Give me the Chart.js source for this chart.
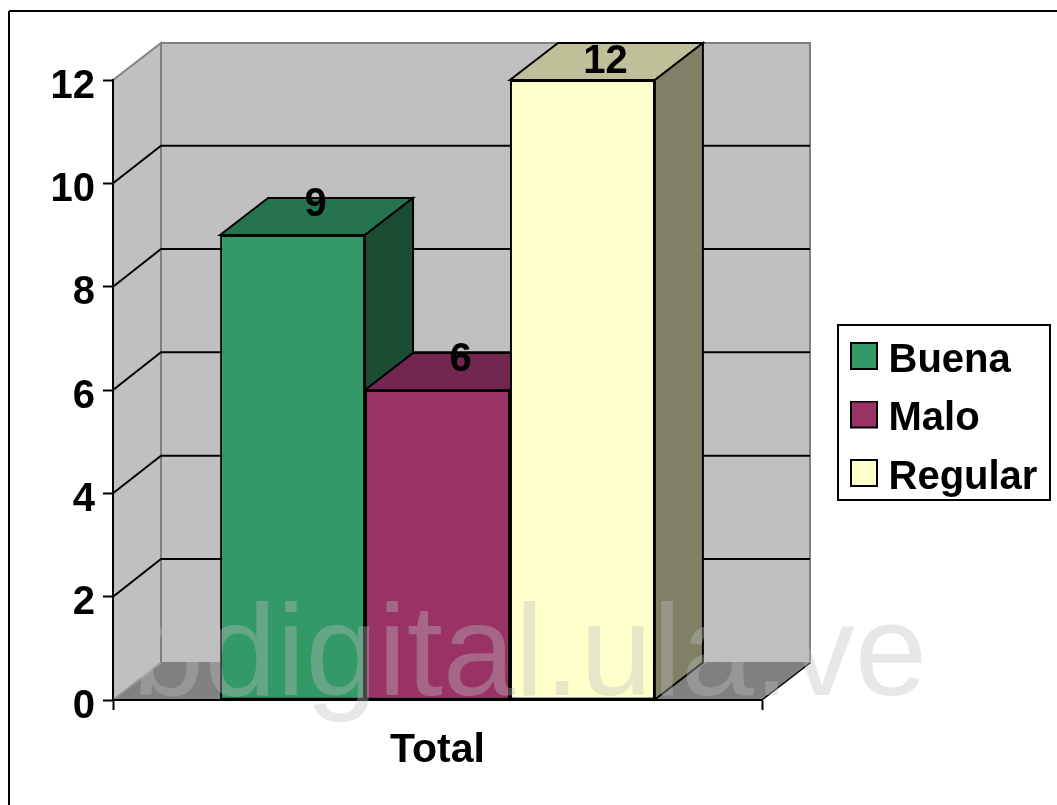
<!DOCTYPE html>
<html>
<head>
<meta charset="utf-8">
<style>
html,body{margin:0;padding:0;background:#fff;overflow:hidden}
#wrap{position:relative;width:1057px;height:805px}
</style>
<script src="https://cdn.jsdelivr.net/npm/chart.js@4"></script>
</head>
<body>
<div id="wrap"><canvas id="c" width="1057" height="805"></canvas></div>
<script>
const categories = ['Total'];
const seriesNames = ['Buena', 'Malo', 'Regular'];
const seriesValues = [[9], [6], [12]];
const frontColors = ['#339966', '#993366', '#FFFFCC'];
const topColors = ['#267350', '#732650', '#BFBF99'];
const sideColors = ['#1A4D33', '#4D1A33', '#808066'];
const watermark = 'bdigital.ula.ve';

const FONT = '"Liberation Sans", Arial, sans-serif';
const DX = 48, DY = 37;

function swatch(color) {
  const s = document.createElement('canvas');
  s.width = 28; s.height = 37;
  const g = s.getContext('2d');
  g.fillStyle = color; g.fillRect(1, 1, 26, 26);
  g.strokeStyle = '#000'; g.lineWidth = 2; g.strokeRect(1, 1, 26, 26);
  return s;
}
function poly(ctx, pts, fill, stroke, lw) {
  ctx.beginPath();
  pts.forEach((p, i) => i ? ctx.lineTo(p[0], p[1]) : ctx.moveTo(p[0], p[1]));
  ctx.closePath();
  if (fill) { ctx.fillStyle = fill; ctx.fill(); }
  if (stroke) { ctx.strokeStyle = stroke; ctx.lineWidth = lw || 2; ctx.stroke(); }
}
function seg(ctx, x1, y1, x2, y2, color, lw) {
  ctx.beginPath(); ctx.moveTo(x1, y1); ctx.lineTo(x2, y2);
  ctx.strokeStyle = color; ctx.lineWidth = lw || 2; ctx.stroke();
}

const scene = {
  id: 'scene',
  afterLayout(chart) {
    const l = chart.legend;
    const w = l.width, h = l.height;
    l.left = 841; l.top = 322; l.right = l.left + w; l.bottom = l.top + h;
  },
  beforeDraw(chart) {
    const ctx = chart.ctx, a = chart.chartArea, ys = chart.scales.y;
    ctx.save();
    ctx.fillStyle = '#fff'; ctx.fillRect(0, 0, chart.width, chart.height);
    // outer frame
    seg(ctx, 9, 805, 9, 11, '#000', 2);
    seg(ctx, 9, 11, 1057, 11, '#000', 2);
    const L = a.left, R = a.right, T = a.top, B = a.bottom;
    // walls
    poly(ctx, [[L + DX, T - DY], [R + DX, T - DY], [R + DX, B - DY], [L + DX, B - DY]], '#C0C0C0', '#808080', 2);
    poly(ctx, [[L, T], [L + DX, T - DY], [L + DX, B - DY], [L, B]], '#C0C0C0', '#808080', 2);
    // floor
    poly(ctx, [[L, B], [R, B], [R + DX, B - DY], [L + DX, B - DY]], '#808080');
    seg(ctx, L, B, L + DX, B - DY, '#A0A0A0', 1.5);
    seg(ctx, R, B, R + DX, B - DY, '#000', 1.5);
    // gridlines on the walls
    ys.ticks.forEach(t => {
      if (t.value === ys.min || t.value === ys.max) return;
      const y = ys.getPixelForValue(t.value);
      ctx.beginPath();
      ctx.moveTo(L, y); ctx.lineTo(L + DX, y - DY - 0.7); ctx.lineTo(R + DX, y - DY - 0.7);
      ctx.strokeStyle = '#000'; ctx.lineWidth = 2; ctx.stroke();
    });
    // legend frame
    ctx.fillStyle = '#fff'; ctx.fillRect(838, 325, 212, 175);
    ctx.strokeStyle = '#000'; ctx.lineWidth = 2; ctx.strokeRect(838, 325, 212, 175);
    ctx.restore();
  },
  beforeDatasetsDraw(chart) {
    const ctx = chart.ctx;
    ctx.save(); ctx.lineJoin = 'miter';
    chart.data.datasets.forEach((ds, i) => {
      chart.getDatasetMeta(i).data.forEach(bar => {
        const x0 = bar.x - bar.width / 2, x1 = bar.x + bar.width / 2, t = bar.y, b = bar.base;
        poly(ctx, [[x0, t], [x1, t], [x1 + DX, t - DY], [x0 + DX, t - DY]], topColors[i], '#000', 2);
        poly(ctx, [[x1, t], [x1 + DX, t - DY], [x1 + DX, b - DY], [x1, b]], sideColors[i], '#000', 2);
      });
    });
    ctx.restore();
  },
  afterDatasetsDraw(chart) {
    const ctx = chart.ctx;
    ctx.save();
    ctx.font = 'bold 40px ' + FONT;
    ctx.fillStyle = '#000'; ctx.textAlign = 'center'; ctx.textBaseline = 'middle';
    chart.data.datasets.forEach((ds, i) => {
      chart.getDatasetMeta(i).data.forEach((bar, j) => {
        ctx.fillText(String(ds.data[j]), bar.x + 23, Math.max(62, bar.y - 30));
      });
    });
    ctx.restore();
  },
  afterDraw(chart) {
    const ctx = chart.ctx;
    ctx.save();
    ctx.font = '130px ' + FONT;
    ctx.fillStyle = 'rgba(190,190,190,0.37)';
    ctx.textAlign = 'left'; ctx.textBaseline = 'alphabetic';
    ctx.fillText(watermark, 132, 695);
    ctx.restore();
  }
};

new Chart(document.getElementById('c'), {
  type: 'bar',
  plugins: [scene],
  data: {
    labels: categories,
    datasets: seriesNames.map((name, i) => ({
      label: name,
      data: seriesValues[i],
      backgroundColor: frontColors[i],
      borderColor: '#000',
      borderWidth: 2,
      borderSkipped: false,
      categoryPercentage: 0.67,
      barPercentage: 1
    }))
  },
  options: {
    responsive: false,
    animation: false,
    layout: { padding: { left: 0, right: 295, top: 80, bottom: 0 } },
    plugins: {
      tooltip: { enabled: false },
      title: { display: false },
      legend: {
        display: true,
        position: 'chartArea',
        align: 'start',
        onClick: null,
        labels: {
          color: '#000',
          font: { family: FONT, size: 40, weight: 'bold' },
          padding: 18.5,
          usePointStyle: true,
          pointStyleWidth: 9,
          generateLabels: chart => chart.data.datasets.map((ds, i) => ({
            text: ds.label,
            fontColor: '#000',
            pointStyle: swatch(frontColors[i]),
            datasetIndex: i
          }))
        }
      }
    },
    scales: {
      x: {
        offset: true,
        afterFit: s => { s.height = 105; },
        grid: { display: true, offset: true, drawOnChartArea: false, drawTicks: true, tickLength: 10, tickWidth: 2, tickColor: '#000' },
        border: { display: true, color: '#000', width: 2 },
        ticks: { color: '#000', padding: 16, maxRotation: 0, font: { family: FONT, size: 41, weight: 'bold' } }
      },
      y: {
        min: 0, max: 12,
        afterFit: s => { s.width = 113; },
        grid: { display: true, drawOnChartArea: false, drawTicks: true, tickLength: 10, tickWidth: 2, tickColor: '#000' },
        border: { display: true, color: '#000', width: 2 },
        ticks: { color: '#000', stepSize: 2, padding: 8, labelOffset: 6.5, font: { family: FONT, size: 40, weight: 'bold' } }
      }
    }
  }
});
</script>
</body>
</html>
